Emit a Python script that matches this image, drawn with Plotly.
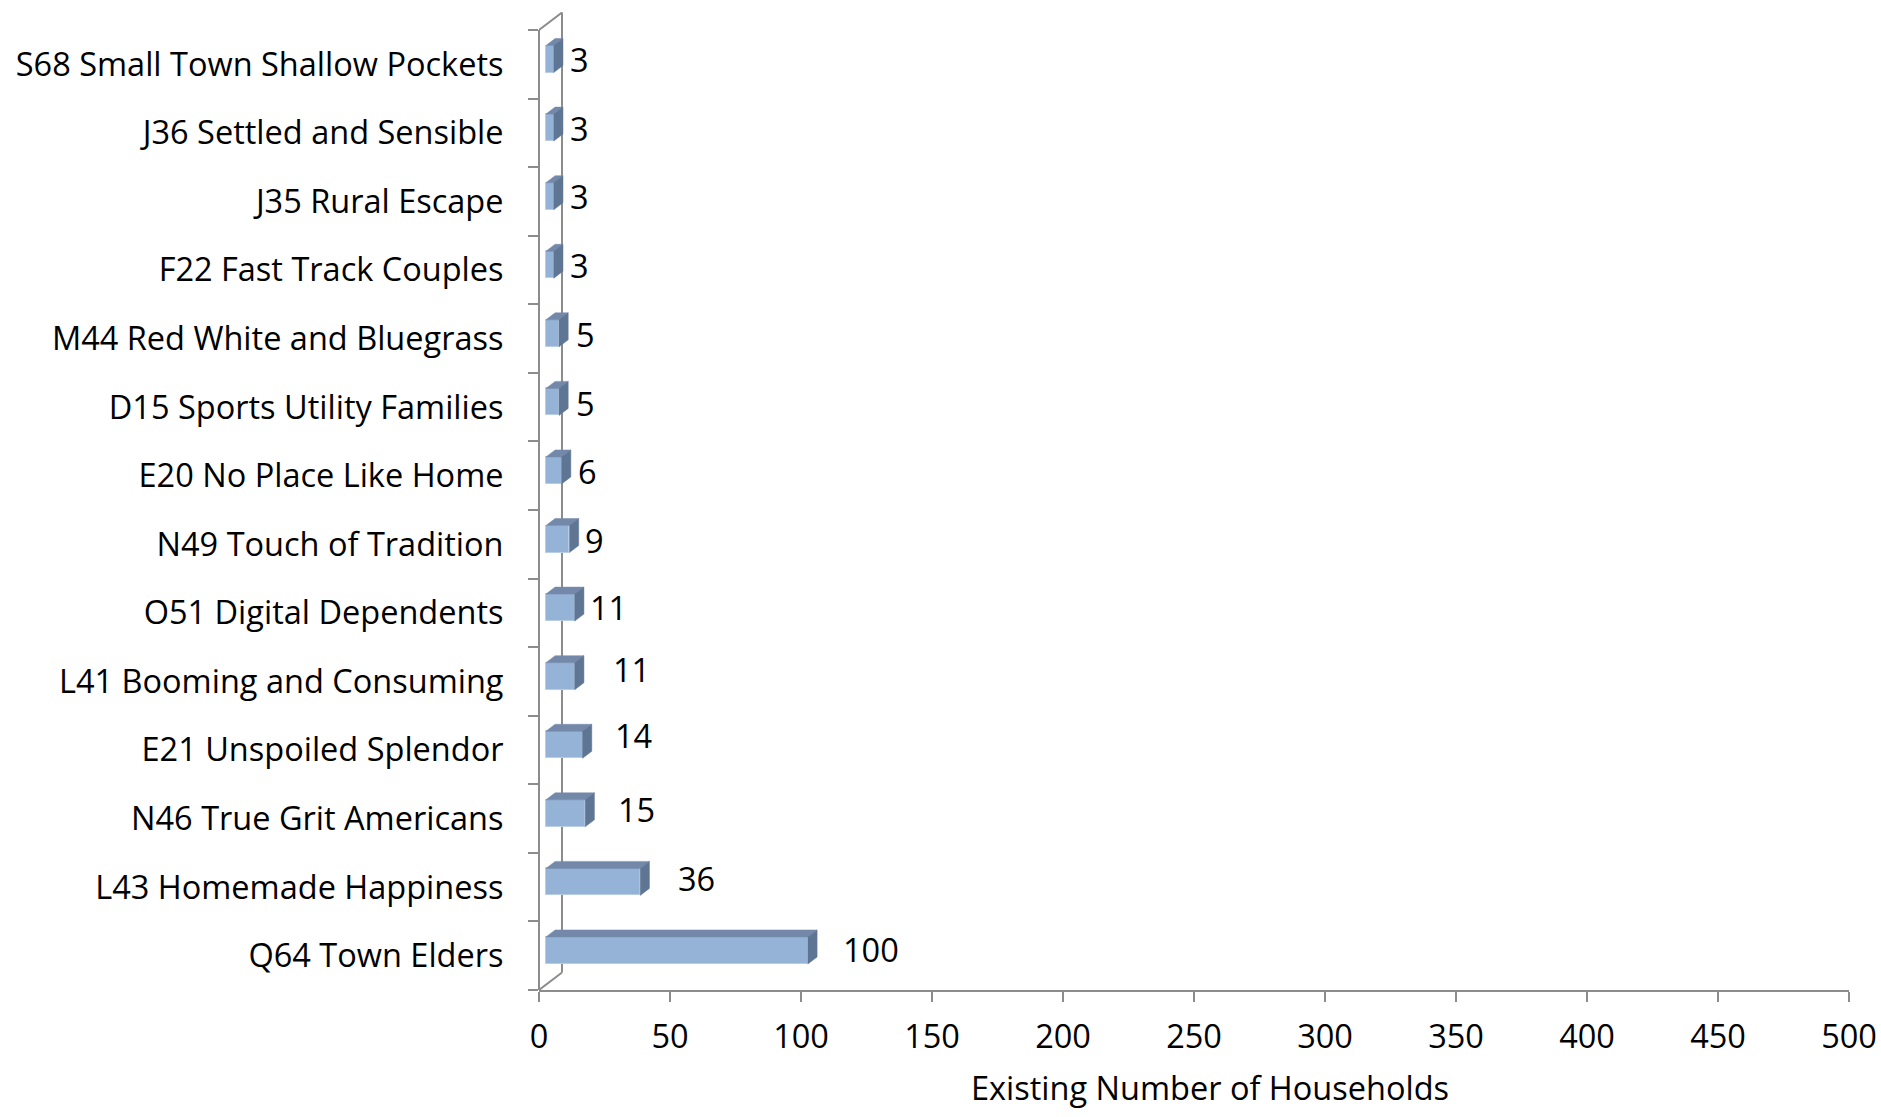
import plotly.graph_objects as go

# Household counts by lifestyle segment (listed bottom to top)
categories = [
    "Q64 Town Elders",
    "L43 Homemade Happiness",
    "N46 True Grit Americans",
    "E21 Unspoiled Splendor",
    "L41 Booming and Consuming",
    "O51 Digital Dependents",
    "N49 Touch of Tradition",
    "E20 No Place Like Home",
    "D15 Sports Utility Families",
    "M44 Red White and Bluegrass",
    "F22 Fast Track Couples",
    "J35 Rural Escape",
    "J36 Settled and Sensible",
    "S68 Small Town Shallow Pockets",
]
households = [100, 36, 15, 14, 11, 11, 9, 6, 5, 5, 3, 3, 3, 3]
x_ticks = [0, 50, 100, 150, 200, 250, 300, 350, 400, 450, 500]
x_title = "Existing Number of Households"

# ---- layout geometry -------------------------------------------------------
W, H = 1881, 1117
M_L, M_R, M_T, M_B = 539, 32, 12, 127
X_MAX = x_ticks[-1]
plot_w = W - M_L - M_R
plot_h = H - M_T - M_B
n = len(categories)
cat_px = (plot_h - 18) / n              # pixels per category band
px_x = plot_w / X_MAX                    # pixels per household

# oblique "3-D" depth of the chart box, in data units
DX = 23 / px_x
DY = 17.5 / cat_px
y_lo = -0.5
y_hi = n - 0.5 + 18 / cat_px

# bars sit between 30% and 70% of the box depth
D_FRONT, D_BACK = 0.3, 0.7
BAR_H = 27 / cat_px

FRONT = "#95B3D7"
TOP = "#7489AA"
SIDE = "#5F7594"
AXIS = "#8C8C8C"
FONT = "Open Sans"
FS = 32.5

idx = list(range(n))
base = D_FRONT * DX
yc = [i + D_FRONT * DY for i in idx]
ddx = (D_BACK - D_FRONT) * DX
ddy = (D_BACK - D_FRONT) * DY

fig = go.Figure()

# front faces
fig.add_trace(go.Bar(
    orientation="h",
    x=households,
    y=yc,
    base=base,
    width=BAR_H,
    marker=dict(color=FRONT, line=dict(color="#B9CDE5", width=1)),
    hoverinfo="skip",
    showlegend=False,
))

# top and side faces of each bar as closed polygons
top_x, top_y, side_x, side_y = [], [], [], []
for v, y in zip(households, yc):
    x0, x1 = base, base + v
    yt, yb = y + BAR_H / 2, y - BAR_H / 2
    top_x += [x0, x1, x1 + ddx, x0 + ddx, x0, None]
    top_y += [yt, yt, yt + ddy, yt + ddy, yt, None]
    side_x += [x1, x1 + ddx, x1 + ddx, x1, x1, None]
    side_y += [yb, yb + ddy, yt + ddy, yt, yb, None]

for xs, ys, col in [(top_x, top_y, TOP), (side_x, side_y, SIDE)]:
    fig.add_trace(go.Scatter(
        x=xs, y=ys, mode="lines", fill="toself", fillcolor=col,
        line=dict(color=col, width=0.5), hoverinfo="skip", showlegend=False,
    ))

# value labels: (right, up) nudges in pixels
label_nudge = [(40, 6), (43, 9), (38, 9), (37, 15), (43, 12), (20, 5), (20, 4),
               (21, 4), (22, 4), (22, 4), (21, 4.5), (21, 4.5), (21, 4.5), (21, 4.5)]
for i, (v, (dx, dy)) in enumerate(zip(households, label_nudge)):
    fig.add_annotation(
        x=v, y=i, xref="x", yref="y", text=str(v), showarrow=False,
        xanchor="left", yanchor="middle", xshift=dx, yshift=dy,
        font=dict(family=FONT, size=FS, color="black"),
    )

# axis title, set slightly right of the axis centre
fig.add_annotation(
    x=0.5, y=0, xref="paper", yref="paper", text=x_title, showarrow=False,
    xanchor="center", yanchor="middle", xshift=16, yshift=-97,
    font=dict(family=FONT, size=FS, color="black"),
)

# chart box: front axis line, back wall edge and the two connecting diagonals
line = dict(color=AXIS, width=2)
fig.add_shape(type="line", xref="paper", yref="y", x0=0, x1=0,
              y0=-0.5, y1=n - 0.5, line=line, layer="below")
fig.add_shape(type="line", xref="x", yref="y", x0=DX, x1=DX,
              y0=-0.5 + DY, y1=n - 0.5 + DY, line=line, layer="below")
fig.add_shape(type="line", xref="x", yref="y", x0=0, x1=DX,
              y0=n - 0.5, y1=n - 0.5 + DY, line=line, layer="below")
fig.add_shape(type="line", xref="x", yref="y", x0=0, x1=DX,
              y0=-0.5, y1=-0.5 + DY, line=line, layer="below")

fig.update_layout(
    width=W, height=H,
    margin=dict(l=M_L, r=M_R, t=M_T, b=M_B, pad=0, autoexpand=False),
    plot_bgcolor="white", paper_bgcolor="white",
    font=dict(family=FONT, size=FS, color="black"),
    showlegend=False,
    bargap=0,
)
fig.update_xaxes(
    range=[0, X_MAX], automargin=False,
    tickmode="array", tickvals=x_ticks, ticktext=[str(t) for t in x_ticks],
    ticks="outside", ticklen=10, tickwidth=2, tickcolor=AXIS,
    showline=True, linecolor=AXIS, linewidth=2,
    showgrid=False, zeroline=False,
    ticklabelstandoff=7,
    tickfont=dict(family=FONT, size=FS, color="black"),
)
fig.update_yaxes(
    range=[y_lo, y_hi], automargin=False,
    tickmode="array", tickvals=idx, ticktext=categories,
    ticks="outside", ticklen=10, tickcolor="rgba(0,0,0,0)",
    minor=dict(tick0=-0.5, dtick=1, ticks="outside", ticklen=10,
               tickwidth=2, tickcolor=AXIS, showgrid=False),
    ticklabelstandoff=18,
    showline=False, showgrid=False, zeroline=False,
    tickfont=dict(family=FONT, size=FS, color="black"),
)

fig.write_html("out.html")
